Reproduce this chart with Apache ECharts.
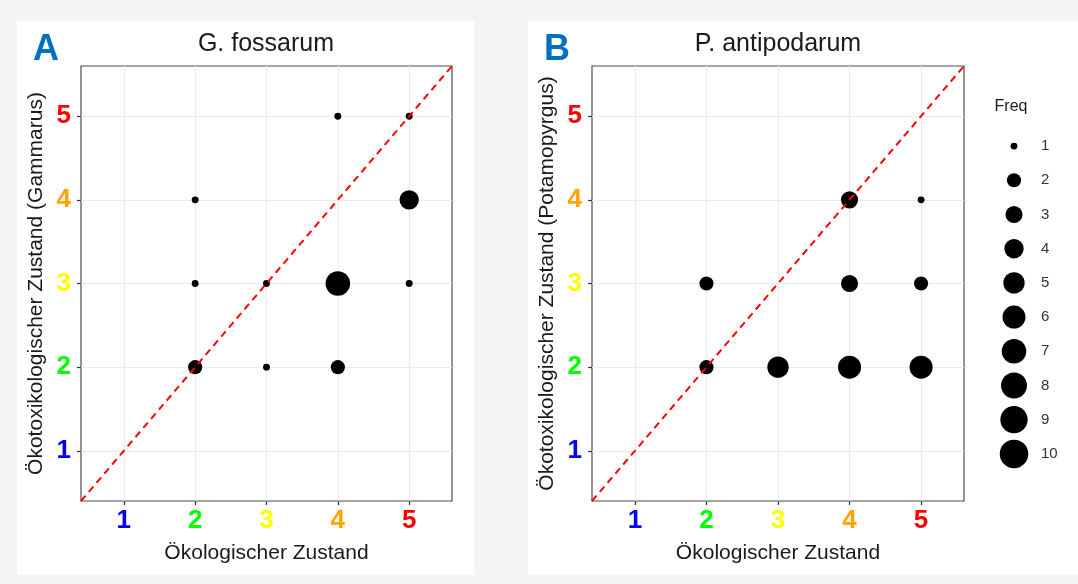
<!DOCTYPE html>
<html>
<head>
<meta charset="utf-8">
<title>Ökotoxikologischer vs. ökologischer Zustand</title>
<script src="https://cdn.jsdelivr.net/npm/echarts@6/dist/echarts.min.js"></script>
<style>
  html, body { margin: 0; padding: 0; background: #f3f4f6; }
  .wrap { position: relative; width: 1078px; height: 584px; overflow: hidden; }
  .panel { position: absolute; background: #fff; }
  #chart { position: absolute; left: 0; top: 0; width: 1078px; height: 584px; }
</style>
</head>
<body>
<div class="wrap">
  <div class="panel" style="left:17px;top:21px;width:457px;height:554px"></div>
  <div class="panel" style="left:528px;top:21px;width:550px;height:554px"></div>
  <div id="chart"></div>
</div>
<script>
// state classes 1..5 and their label colours
const levels = [1, 2, 3, 4, 5]
const levelColors = ['#0000ff', '#00ff00', '#ffff00', '#ffa500', '#ff0000']

// G. fossarum: ecological state (x), ecotox state (y), count
const gammarusX = [4, 5, 2, 5, 2, 3, 4, 5, 2, 3, 4]
const gammarusY = [5, 5, 4, 4, 3, 3, 3, 3, 2, 2, 2]
const gammarusFreq = [1, 1, 1, 4, 1, 1, 7, 1, 2, 1, 2]

// P. antipodarum
const potamoX = [4, 5, 2, 4, 5, 2, 3, 4, 5]
const potamoY = [4, 4, 3, 3, 3, 2, 2, 2, 2]
const potamoFreq = [3, 1, 2, 3, 2, 2, 5, 6, 6]

const freqBreaks = [1, 2, 3, 4, 5, 6, 7, 8, 9, 10]
const diagonal = [0.4, 5.6]

const FONT = '"Liberation Sans", Arial, sans-serif'

// ggplot-like area scale, range 1..6
const sizeOf = (f) => 2.6 + 4.32 * (1 + 5 * Math.sqrt((f - 1) / 9))

const points = (xs, ys, fs) => xs.map((x, i) => [x, ys[i], fs[i]])

const grids = [
  { left: 81, top: 66, width: 371, height: 435 },
  { left: 592, top: 66, width: 372, height: 435 },
  { left: 1000, top: 129, width: 28, height: 342 },
]

const stateAxis = (gridIndex, name, isY) => ({
  type: 'value',
  gridIndex,
  min: diagonal[0],
  max: diagonal[1],
  name,
  nameLocation: 'middle',
  nameGap: isY ? 34 : 42,
  nameTextStyle: { fontFamily: FONT, fontSize: 21, color: '#1a1a1a' },
  axisLine: { show: false },
  axisTick: { show: true, length: 4, lineStyle: { color: '#333', width: 1.2 }, customValues: levels },
  axisLabel: {
    customValues: levels,
    margin: isY ? 10 : 7,
    fontFamily: FONT,
    fontSize: 26,
    fontWeight: 'bold',
    color: (v) => levelColors[levels.indexOf(Number(v))] || '#333',
  },
  splitLine: { show: true, lineStyle: { color: '#ebebeb', width: 1.2 } },
})

const scatter = (idx, data) => ({
  type: 'scatter',
  xAxisIndex: idx,
  yAxisIndex: idx,
  data,
  symbolSize: (v) => sizeOf(v[2]),
  itemStyle: { color: '#000', opacity: 1 },
  z: 3,
})

const diag = (idx) => ({
  type: 'line',
  xAxisIndex: idx,
  yAxisIndex: idx,
  data: [[diagonal[0], diagonal[0]], [diagonal[1], diagonal[1]]],
  symbol: 'none',
  lineStyle: { color: '#ff0000', width: 2, type: [7, 5] },
  z: 5,
  silent: true,
})

const titleText = (text, left, top, size, extra) => ({
  text,
  left,
  top,
  padding: 0,
  textAlign: 'center',
  textStyle: Object.assign({ fontFamily: FONT, fontSize: size, fontWeight: 'normal', color: '#1a1a1a' }, extra || {}),
})

const option = {
  animation: false,
  title: [
    titleText('A', 46, 32, 36, { fontWeight: 'bold', color: '#0070c0' }),
    titleText('B', 557, 32, 36, { fontWeight: 'bold', color: '#0070c0' }),
    titleText('G. fossarum', 266, 32, 25),
    titleText('P. antipodarum', 778, 32, 25),
    titleText('Freq', 1011, 99, 16),
  ],
  grid: grids.map((g) => Object.assign({ show: g.width > 100, borderColor: '#4d4d4d', borderWidth: 1.2 }, g)),
  xAxis: [
    stateAxis(0, 'Ökologischer Zustand', false),
    stateAxis(1, 'Ökologischer Zustand', false),
    { type: 'value', gridIndex: 2, min: -1, max: 1, show: false },
  ],
  yAxis: [
    stateAxis(0, 'Ökotoxikologischer Zustand (Gammarus)', true),
    stateAxis(1, 'Ökotoxikologischer Zustand (Potamopyrgus)', true),
    {
      type: 'category',
      gridIndex: 2,
      position: 'right',
      inverse: true,
      data: freqBreaks.map(String),
      axisLine: { show: false },
      axisTick: { show: false },
      splitLine: { show: false },
      axisLabel: { margin: 13, fontFamily: FONT, fontSize: 15, color: '#333' },
    },
  ],
  series: [
    scatter(0, points(gammarusX, gammarusY, gammarusFreq)),
    scatter(1, points(potamoX, potamoY, potamoFreq)),
    diag(0),
    diag(1),
    {
      type: 'scatter',
      xAxisIndex: 2,
      yAxisIndex: 2,
      data: freqBreaks.map((f, i) => [0, i, f]),
      symbolSize: (v) => sizeOf(v[2]),
      itemStyle: { color: '#000', opacity: 1 },
    },
  ],
}

const chart = echarts.init(document.getElementById('chart'), null, { renderer: 'canvas' })
chart.setOption(option)
window.addEventListener('resize', () => chart.resize())
</script>
</body>
</html>
